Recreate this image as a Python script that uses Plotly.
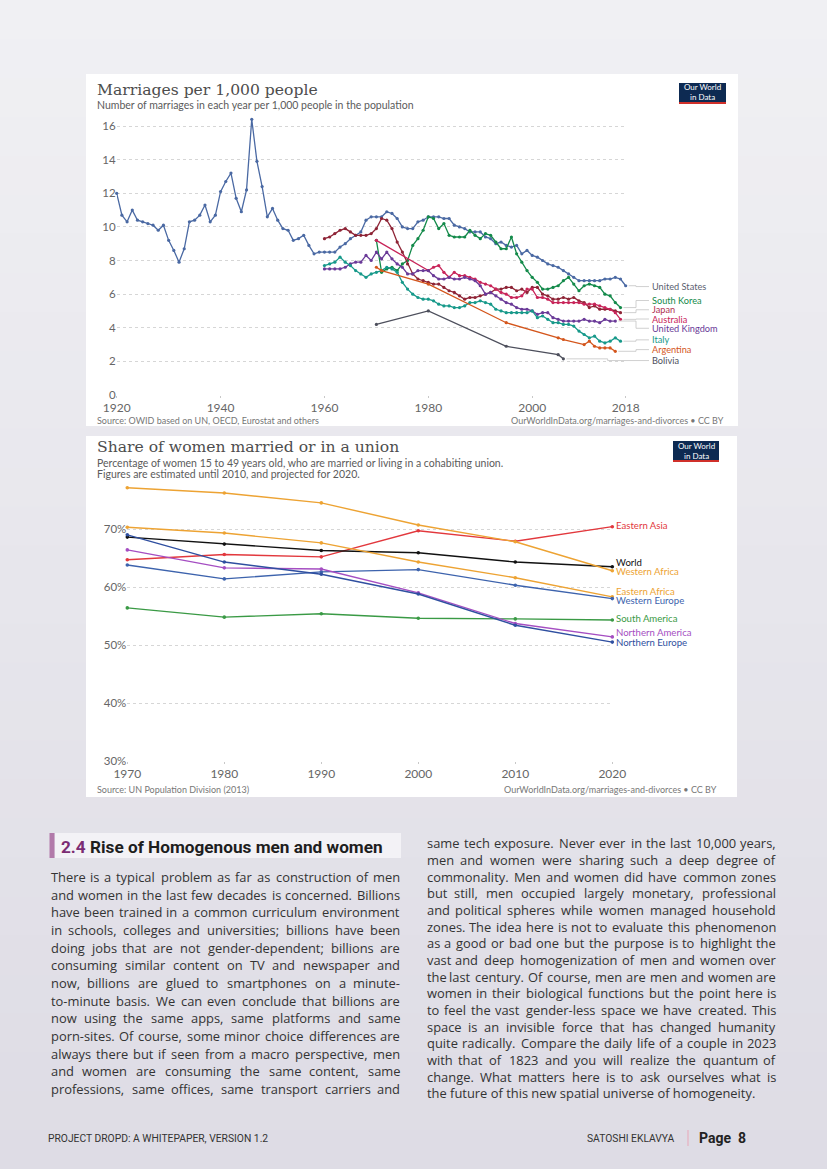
import plotly.graph_objects as go

W, H = 827, 1169

# ---------------- DATA: Marriages per 1,000 people ----------------
us_years = list(range(1920, 2019))
us_vals = [12.0, 10.7, 10.3, 11.0, 10.4, 10.3, 10.2, 10.1, 9.8, 10.1,
           9.2, 8.6, 7.9, 8.7, 10.3, 10.4, 10.7, 11.3, 10.3, 10.7,
           12.1, 12.7, 13.2, 11.7, 10.9, 12.2, 16.4, 13.9, 12.4, 10.6,
           11.1, 10.4, 9.9, 9.8, 9.2, 9.3, 9.5, 8.9, 8.4, 8.5,
           8.5, 8.5, 8.5, 8.8, 9.0, 9.3, 9.5, 9.7, 10.4, 10.6,
           10.6, 10.6, 10.9, 10.8, 10.5, 10.0, 9.9, 9.9, 10.3, 10.4,
           10.6, 10.6, 10.6, 10.5, 10.5, 10.1, 10.0, 9.9, 9.7, 9.7,
           9.7, 9.4, 9.3, 9.0, 9.1, 8.9, 8.8, 8.9, 8.4, 8.6,
           8.3, 8.2, 8.0, 7.8, 7.7, 7.6, 7.4, 7.2, 7.0, 6.8,
           6.8, 6.8, 6.8, 6.8, 6.9, 6.9, 7.0, 6.9, 6.5]

kr_years = list(range(1970, 2018))
kr_vals = [9.2, 7.3, 7.5, 7.6, 7.4, 7.8, 8.0, 8.9, 9.3, 9.8,
           10.6, 10.5, 9.9, 10.2, 9.5, 9.4, 9.4, 9.4, 9.8, 9.5,
           9.3, 9.6, 9.5, 9.1, 8.7, 8.7, 9.4, 8.4, 7.9, 7.4,
           7.0, 6.7, 6.3, 6.3, 6.4, 6.5, 6.8, 7.0, 6.6, 6.2,
           6.5, 6.6, 6.5, 6.4, 6.0, 5.9, 5.5, 5.2]

jp_years = list(range(1960, 2018))
jp_vals = [9.3, 9.4, 9.6, 9.8, 9.9, 9.7, 9.5, 9.5, 9.5, 9.6,
           9.9, 10.5, 10.4, 9.9, 9.1, 8.5, 7.8, 7.2, 6.9, 6.8,
           6.7, 6.6, 6.6, 6.4, 6.2, 6.1, 5.9, 5.7, 5.8, 5.8,
           5.9, 6.0, 6.1, 6.3, 6.3, 6.4, 6.4, 6.2, 6.3, 6.1,
           6.4, 6.4, 6.0, 5.9, 5.7, 5.7, 5.8, 5.7, 5.8, 5.6,
           5.5, 5.2, 5.3, 5.1, 5.1, 5.1, 5.0, 4.9]

au_years = [1970] + list(range(1980, 2018))
au_vals = [9.2,
           7.4, 7.6, 7.7, 7.3, 7.0, 7.3, 7.1, 7.1, 7.0, 6.9,
           6.7, 6.6, 6.5, 6.3, 6.1, 6.0, 5.8, 5.8, 5.9, 6.3,
           6.3, 5.8, 5.8, 5.7, 5.5, 5.5, 5.5, 5.5, 5.5, 5.5,
           5.4, 5.4, 5.4, 5.3, 5.2, 5.1, 4.9, 4.5]

uk_years = list(range(1960, 2017))
uk_vals = [7.5, 7.5, 7.5, 7.5, 7.6, 7.8, 7.9, 7.9, 8.3, 8.0,
           8.5, 8.1, 8.5, 8.1, 7.8, 7.6, 7.2, 7.2, 7.4, 7.4,
           7.4, 7.1, 6.9, 6.9, 7.0, 6.9, 6.9, 7.0, 6.9, 6.8,
           6.5, 6.0, 6.1, 5.9, 5.7, 5.5, 5.4, 5.2, 5.1, 5.1,
           5.0, 4.8, 4.9, 4.9, 4.6, 4.5, 4.4, 4.4, 4.4, 4.4,
           4.5, 4.4, 4.4, 4.3, 4.5, 4.4, 4.4]

it_years = list(range(1960, 2018))
it_vals = [7.7, 7.8, 7.9, 8.2, 7.9, 7.7, 7.4, 7.2, 7.0, 7.2,
           7.3, 7.4, 7.6, 7.5, 7.3, 6.7, 6.3, 6.0, 5.8, 5.7,
           5.7, 5.6, 5.4, 5.3, 5.3, 5.2, 5.2, 5.3, 5.5, 5.5,
           5.6, 5.5, 5.4, 5.1, 5.0, 4.9, 4.9, 4.9, 4.9, 4.9,
           5.0, 4.6, 4.7, 4.5, 4.3, 4.3, 4.2, 4.2, 4.1, 3.8,
           3.6, 3.4, 3.5, 3.2, 3.1, 3.2, 3.4, 3.2]

ar_years = [1970, 1971, 1980, 1995, 2005, 2006, 2010, 2011, 2012, 2013, 2014, 2015, 2016]
ar_vals = [7.6, 7.4, 6.6, 4.3, 3.4, 3.3, 3.0, 3.2, 2.9, 2.8, 2.8, 2.8, 2.6]

bo_years = [1970, 1980, 1995, 2005, 2006]
bo_vals = [4.2, 5.0, 2.9, 2.4, 2.15]

m_names = ["United States", "South Korea", "Japan", "Australia",
           "United Kingdom", "Italy", "Argentina", "Bolivia"]
m_years = [us_years, kr_years, jp_years, au_years, uk_years, it_years, ar_years, bo_years]
m_vals = [us_vals, kr_vals, jp_vals, au_vals, uk_vals, it_vals, ar_vals, bo_vals]
m_colors = ["#4a69a3", "#138a4a", "#8e2436", "#c82459",
            "#6a3a98", "#17998a", "#d4561c", "#4d4f5c"]
m_label_colors = ["#5a6170", "#138a4a", "#b03050", "#c82459",
                  "#6a3a98", "#17998a", "#d4561c", "#4d4f5c"]
m_label_y = [6.45, 5.62, 5.07, 4.52, 3.97, 3.28, 2.7, 2.05]

m_xticks = [1920, 1940, 1960, 1980, 2000, 2018]
m_yticks = [0, 2, 4, 6, 8, 10, 12, 14, 16]

# ---------------- DATA: Share of women married or in a union ----------------
u_years = [1970, 1980, 1990, 2000, 2010, 2020]
u_names = ["Eastern Asia", "World", "Western Africa", "Eastern Africa",
           "Western Europe", "South America", "Northern America", "Northern Europe"]
u_vals = [
    [64.7, 65.6, 65.2, 69.7, 67.9, 70.4],   # Eastern Asia
    [68.6, 67.4, 66.3, 65.9, 64.3, 63.5],   # World
    [77.1, 76.2, 74.5, 70.7, 67.8, 62.8],   # Western Africa
    [70.3, 69.3, 67.6, 64.3, 61.6, 58.3],   # Eastern Africa
    [63.8, 61.4, 62.6, 63.0, 60.3, 58.0],   # Western Europe
    [56.4, 54.8, 55.4, 54.6, 54.5, 54.3],   # South America
    [66.4, 63.3, 63.1, 59.0, 53.7, 51.4],   # Northern America
    [69.0, 64.3, 62.2, 58.8, 53.4, 50.5],   # Northern Europe
]
u_colors = ["#e2383d", "#111111", "#eda333", "#eda333",
            "#3d63ad", "#3a9a45", "#a54ec2", "#2f4fa0"]
u_label_y = [70.6, 64.2, 62.6, 59.3, 57.7, 54.6, 52.2, 50.5]
u_yticks = [30, 40, 50, 60, 70]
u_ytext = ["30%", "40%", "50%", "60%", "70%"]

# ---------------- TEXT ----------------
left_lines = [
    "There is a typical problem as far as construction of men",
    "and women in the last few decades is concerned. Billions",
    "have been trained in a common curriculum environment",
    "in schools, colleges and universities; billions have been",
    "doing jobs that are not gender-dependent; billions are",
    "consuming similar content on TV and newspaper and",
    "now, billions are glued to smartphones on a minute-",
    "to-minute basis. We can even conclude that billions are",
    "now using the same apps, same platforms and same",
    "porn-sites. Of course, some minor choice differences are",
    "always there but if seen from a macro perspective, men",
    "and women are consuming the same content, same",
    "professions, same offices, same transport carriers and",
]
right_lines = [
    "same tech exposure. Never ever in the last 10,000 years,",
    "men and women were sharing such a deep degree of",
    "commonality. Men and women did have common zones",
    "but still, men occupied largely monetary, professional",
    "and political spheres while women managed household",
    "zones. The idea here is not to evaluate this phenomenon",
    "as a good or bad one but the purpose is to highlight the",
    "vast and deep homogenization of men and women over",
    "the last century. Of course, men are men and women are",
    "women in their biological functions but the point here is",
    "to feel the vast gender-less space we have created. This",
    "space is an invisible force that has changed humanity",
    "quite radically. Compare the daily life of a couple in 2023",
    "with that of 1823 and you will realize the quantum of",
    "change. What matters here is to ask ourselves what is",
    "the future of this new spatial universe of homogeneity.",
]

# ---------------- helpers ----------------
def X(px):
    return px / W


def Y(py):
    return 1 - py / H


TX0, TX1 = 116.7, 625.7
TY0, TPPU, TYMAX = 395.0, 16.81, 16.6
BX0, BX1 = 127.3, 612.3
BY0, BPPU, BYMIN, BYMAX = 761.0, 5.8, 30, 78.5

fig = go.Figure()

for name, xs, ys, c in zip(m_names, m_years, m_vals, m_colors):
    fig.add_trace(go.Scatter(x=xs, y=ys, mode="lines+markers", name=name,
                             line=dict(color=c, width=1.3),
                             marker=dict(color=c, size=3.2),
                             xaxis="x", yaxis="y", showlegend=False,
                             cliponaxis=False))

for name, ys, c in zip(u_names, u_vals, u_colors):
    fig.add_trace(go.Scatter(x=u_years, y=ys, mode="lines+markers", name=name,
                             line=dict(color=c, width=1.4),
                             marker=dict(color=c, size=3.6),
                             xaxis="x2", yaxis="y2", showlegend=False,
                             cliponaxis=False))

shapes = []
annotations = []

# background gradient bands
top_c = (240, 240, 243)
bot_c = (222, 220, 229)
nb = 30
for i in range(nb):
    t = i / (nb - 1)
    col = tuple(int(round(top_c[k] + (bot_c[k] - top_c[k]) * t)) for k in range(3))
    shapes.append(dict(type="rect", xref="paper", yref="paper", x0=0, x1=1,
                       y0=max(0, 1 - (i + 1) / nb - 0.001), y1=1 - i / nb,
                       fillcolor="rgb(%d,%d,%d)" % col, line=dict(width=0), layer="below"))

# white panels
shapes.append(dict(type="rect", xref="paper", yref="paper", x0=X(86), x1=X(738),
                   y0=Y(426), y1=Y(74), fillcolor="white", line=dict(width=0), layer="below"))
shapes.append(dict(type="rect", xref="paper", yref="paper", x0=X(86), x1=X(737),
                   y0=Y(797), y1=Y(436), fillcolor="white", line=dict(width=0), layer="below"))

# OWID logos
for (lx0, lx1, ly0, ly1) in [(679, 726, 83, 104), (673, 719, 441, 462)]:
    shapes.append(dict(type="rect", xref="paper", yref="paper", x0=X(lx0), x1=X(lx1),
                       y0=Y(ly1 - 2), y1=Y(ly0), fillcolor="#0d2a52", line=dict(width=0)))
    shapes.append(dict(type="rect", xref="paper", yref="paper", x0=X(lx0), x1=X(lx1),
                       y0=Y(ly1), y1=Y(ly1 - 2), fillcolor="#d0302a", line=dict(width=0)))
    annotations.append(dict(xref="paper", yref="paper", x=X((lx0 + lx1) / 2), y=Y((ly0 + ly1 - 2) / 2),
                            text="Our World<br>in Data", showarrow=False, xanchor="center",
                            yanchor="middle", font=dict(family="Lato", size=8, color="white")))


def txt(x, y, s, size, color, family="Lato", anchor="left"):
    annotations.append(dict(xref="paper", yref="paper", x=X(x), y=Y(y), text=s,
                            showarrow=False, xanchor=anchor, yanchor="middle", borderpad=0,
                            font=dict(family=family, size=size, color=color)))


txt(96, 90, "Marriages per 1,000 people", 15.6, "#4d4d4d", family="DejaVu Serif")
txt(96, 104.5, "Number of marriages in each year per 1,000 people in the population", 10.5, "#5b5b5b")
txt(96, 420.5, "Source: OWID based on UN, OECD, Eurostat and others", 9.0, "#777")
txt(725, 420.5, "OurWorldInData.org/marriages-and-divorces \u2022 CC BY", 9.0, "#777", anchor="right")

txt(96, 447, "Share of women married or in a union", 15.6, "#4d4d4d", family="DejaVu Serif")
txt(96, 463, "Percentage of women 15 to 49 years old, who are married or living in a cohabiting union.", 10.5, "#5b5b5b")
txt(96, 474, "Figures are estimated until 2010, and projected for 2020.", 10.5, "#5b5b5b")
txt(96, 789, "Source: UN Population Division (2013)", 9.0, "#777")
txt(718, 789, "OurWorldInData.org/marriages-and-divorces \u2022 CC BY", 9.0, "#777", anchor="right")


def tx_paper(year):
    return X(TX0 + (year - 1920) / 98.0 * (TX1 - TX0))


for name, xs, ys, lc, ly in zip(m_names, m_years, m_vals, m_label_colors, m_label_y):
    xe = tx_paper(xs[-1]) + X(3)
    xl = X(649)
    xm = X(636) if xs[-1] >= 2015 else (xe + xl) / 2
    path = "M %f,%f H %f V %f H %f" % (xe, ys[-1], xm, ly, xl)
    shapes.append(dict(type="path", xref="paper", yref="y", path=path,
                       line=dict(color="#c4c4c4", width=0.8)))
    annotations.append(dict(xref="paper", yref="y", x=X(651), y=ly, text=name,
                            showarrow=False, xanchor="left", yanchor="middle", borderpad=0,
                            font=dict(family="Lato", size=9.2, color=lc)))

for name, lc, ly in zip(u_names, u_colors, u_label_y):
    annotations.append(dict(xref="paper", yref="y2", x=X(615), y=ly, text=name,
                            showarrow=False, xanchor="left", yanchor="middle", borderpad=0,
                            font=dict(family="Lato", size=9.6, color=lc)))

# section heading
shapes.append(dict(type="rect", xref="paper", yref="paper", x0=X(55), x1=X(401),
                   y0=Y(858), y1=Y(833), fillcolor="#f3f2f6", line=dict(width=0)))
shapes.append(dict(type="rect", xref="paper", yref="paper", x0=X(49.5), x1=X(54.5),
                   y0=Y(858), y1=Y(833), fillcolor="#b27aaa", line=dict(width=0)))
annotations.append(dict(xref="paper", yref="paper", x=X(60), y=Y(847), showarrow=False,
                        xanchor="left", yanchor="middle", borderpad=0,
                        text="<b><span style='color:#7b2c73'>2.4</span> Rise of Homogenous men and women</b>",
                        font=dict(family="Roboto", size=17.2, color="#1e1e1e")))

# justified body text (words placed individually)
CW = {' ': 260, 'a': 556, 'b': 613, 'c': 480, 'd': 613, 'e': 561, 'f': 336, 'g': 546,
      'h': 614, 'i': 252, 'j': 252, 'k': 529, 'l': 252, 'm': 930, 'n': 614, 'o': 604,
      'p': 613, 'q': 613, 'r': 408, 's': 477, 't': 353, 'u': 614, 'v': 500, 'w': 778,
      'x': 524, 'y': 500, 'z': 467, 'A': 633, 'B': 648, 'C': 631, 'D': 729, 'E': 556,
      'F': 516, 'G': 728, 'H': 738, 'I': 279, 'J': 267, 'K': 614, 'L': 519, 'M': 903,
      'N': 754, 'O': 779, 'P': 602, 'Q': 779, 'R': 618, 'S': 549, 'T': 553, 'U': 729,
      'V': 590, 'W': 927, 'X': 572, 'Y': 560, 'Z': 568, ',': 245, '.': 266, ';': 266,
      '-': 322, "'": 200, ':': 266}
BODY_FONT = "Open Sans"
BODY_FS = 12.9
WFAC = 1.02


def word_w(w, fs):
    return sum(CW.get(ch, 572) for ch in w) / 1000.0 * fs * WFAC


def word(x, y, s, anchor):
    annotations.append(dict(xref="paper", yref="paper", x=X(x), y=Y(y), text=s,
                            showarrow=False, xanchor=anchor, yanchor="middle", borderpad=0,
                            font=dict(family=BODY_FONT, size=BODY_FS, color="#333")))


def body(lines, x0, width, y0, dy, last_justify):
    for i, line in enumerate(lines):
        yy = y0 + i * dy
        words = line.split()
        justify = (i < len(lines) - 1) or last_justify
        if not justify:
            word(x0, yy, line, "left")
            continue
        ws = [word_w(w, BODY_FS) for w in words]
        gap = (width - sum(ws)) / (len(words) - 1)
        pos = x0
        for j, w in enumerate(words):
            if j == 0:
                word(x0, yy, w, "left")
            elif j == len(words) - 1:
                word(x0 + width, yy, w, "right")
            else:
                word(pos + ws[j] / 2, yy, w, "center")
            pos += ws[j] + gap


body(left_lines, 50, 351, 877, 17.67, True)
body(right_lines, 426, 351, 843.3, 16.67, False)

# footer
NARROW = "Liberation Sans Narrow, Roboto"
txt(47, 1138, "PROJECT DROPD: A WHITEPAPER, VERSION 1.2", 10.3, "#333", family=NARROW)
txt(676, 1138, "SATOSHI EKLAVYA", 10.3, "#333", family=NARROW, anchor="right")
shapes.append(dict(type="line", xref="paper", yref="paper", x0=X(688), x1=X(688),
                   y0=Y(1146), y1=Y(1130), line=dict(color="#e9a7b8", width=1)))
annotations.append(dict(xref="paper", yref="paper", x=X(698), y=Y(1138), text="<b>Page  8</b>",
                        showarrow=False, xanchor="left", yanchor="middle", borderpad=0,
                        font=dict(family=NARROW, size=14, color="#222")))

axis_common = dict(automargin=False, zeroline=False, showline=False)

fig.update_layout(
    template="none",
    width=W, height=H, margin=dict(l=0, r=0, t=0, b=0, pad=0, autoexpand=False),
    paper_bgcolor="#e8e7ee", plot_bgcolor="rgba(0,0,0,0)",
    shapes=shapes, annotations=annotations, showlegend=False,
    xaxis=dict(domain=[X(TX0), X(TX1)], range=[1920, 2018], tickvals=m_xticks,
               showgrid=False, ticks="outside", ticklen=2, tickcolor="#c8c8c8", anchor="y",
               tickfont=dict(family="Lato", size=12, color="#666"), **axis_common),
    yaxis=dict(domain=[Y(TY0), Y(TY0 - TYMAX * TPPU)], range=[0, TYMAX], tickvals=m_yticks,
               showgrid=True, gridcolor="#d6d6d6", griddash="dot", gridwidth=1,
               ticks="", anchor="x",
               tickfont=dict(family="Lato", size=11.5, color="#666"), **axis_common),
    xaxis2=dict(domain=[X(BX0), X(BX1)], range=[1970, 2020], tickvals=u_years,
                showgrid=False, ticks="outside", ticklen=2, tickcolor="#c8c8c8", anchor="y2",
                tickfont=dict(family="Lato", size=12, color="#666"), **axis_common),
    yaxis2=dict(domain=[Y(BY0), Y(BY0 - (BYMAX - BYMIN) * BPPU)], range=[BYMIN, BYMAX],
                tickvals=u_yticks, ticktext=u_ytext,
                showgrid=True, gridcolor="#d6d6d6", griddash="dot", gridwidth=1,
                ticks="", anchor="x2",
                tickfont=dict(family="Lato", size=11.5, color="#666"), **axis_common),
)

fig.write_html("out.html", config={"displayModeBar": False},
               post_script="document.body.style.margin='0px';document.body.style.overflow='hidden';")
